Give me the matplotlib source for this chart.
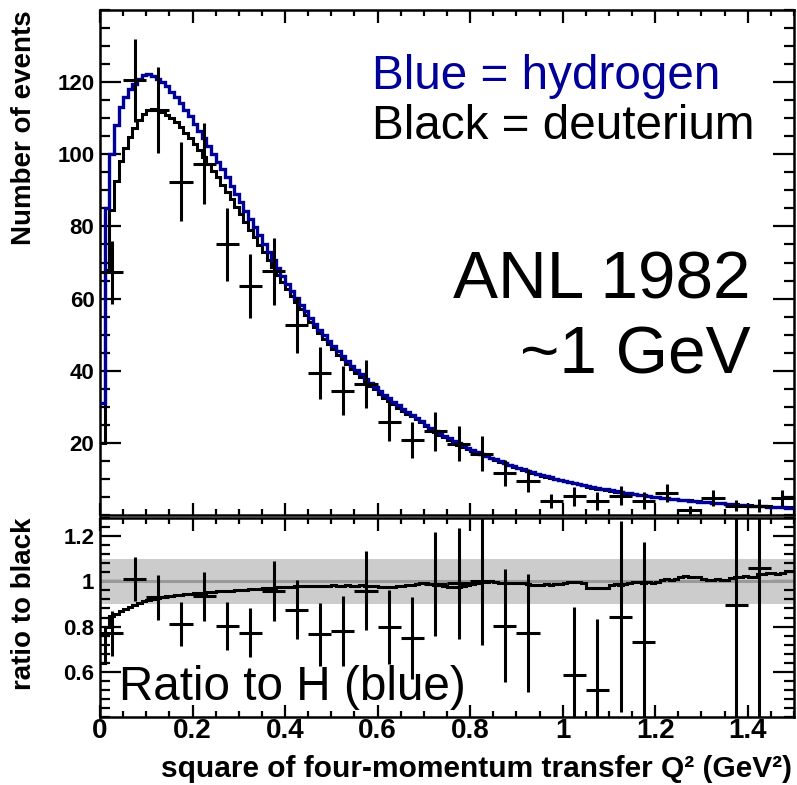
import numpy as np
import matplotlib
matplotlib.use("Agg")
import matplotlib.pyplot as plt
from matplotlib.ticker import MultipleLocator, FixedLocator, NullFormatter

plt.rcParams['font.family'] = ['Liberation Sans', 'DejaVu Sans']

# ---- Q^2 binning (fine MC histograms, 0.01 GeV^2 per bin; data 0.05 GeV^2) ----
q2_min, q2_max = 0.0, 1.5
n_fine = 150
n_data = 30

# Simulated hydrogen spectrum (blue), events per fine bin
hydrogen = [
    31, 85, 100, 108, 113, 116, 118, 119.5, 121, 122,
    122.2, 121.8, 121.0, 120.0, 118.8, 117.4, 115.9, 114.2, 112.4, 110.5,
    108.5, 106.5, 104.4, 102.3, 100.2, 98.0, 95.8, 93.6, 91.3, 89.0,
    86.7, 84.4, 82.1, 79.8, 77.5, 75.2, 72.9, 70.6, 68.4, 66.2,
    64.1, 62.1, 60.2, 58.3, 56.5, 54.7, 53.0, 51.4, 49.8, 48.3,
    46.8, 45.4, 44.0, 42.7, 41.4, 40.2, 39.0, 37.8, 36.7, 35.6,
    34.5, 33.4, 32.4, 31.4, 30.4, 29.5, 28.6, 27.7, 26.8, 26.0,
    25.0, 24.2, 23.4, 22.7, 22.0, 21.3, 20.6, 19.9, 19.3, 18.7,
    18.1, 17.5, 16.9, 16.4, 15.9, 15.4, 14.9, 14.4, 14.0, 13.5,
    13.1, 12.7, 12.3, 11.9, 11.5, 11.1, 10.8, 10.4, 10.1, 9.8,
    9.5, 9.2, 8.9, 8.6, 8.3, 8.0, 7.8, 7.5, 7.3, 7.1,
    6.8, 6.6, 6.4, 6.2, 6.0, 5.8, 5.6, 5.5, 5.3, 5.1,
    5.0, 4.8, 4.7, 4.5, 4.4, 4.2, 4.1, 4.0, 3.8, 3.7,
    3.6, 3.5, 3.4, 3.3, 3.2, 3.1, 3.0, 2.9, 2.8, 2.7,
    2.6, 2.5, 2.5, 2.4, 2.3, 2.2, 2.2, 2.1, 2.0, 2.0,
]

# Simulated deuterium spectrum (black), events per fine bin
deuterium = [
    19.84, 68.0, 84.5, 92.56, 98.08, 101.85, 104.78, 107.19, 109.51, 111.26,
    112.18, 112.42, 112.17, 111.72, 110.96, 110.0, 108.83, 107.46, 105.99, 104.42,
    102.75, 101.07, 99.18, 97.39, 95.49, 93.59, 91.58, 89.58, 87.56, 85.44,
    83.32, 81.28, 79.14, 77.09, 74.94, 72.87, 70.71, 68.62, 66.55, 64.55,
    62.56, 60.67, 58.94, 57.02, 55.37, 53.55, 51.99, 50.37, 48.75, 47.38,
    45.96, 44.49, 43.16, 41.97, 40.61, 39.40, 38.30, 37.04, 35.89, 34.85,
    33.67, 32.57, 31.65, 30.65, 29.73, 28.94, 28.11, 27.31, 26.53, 25.82,
    24.80, 23.96, 23.07, 22.29, 21.52, 20.79, 20.09, 19.44, 18.93, 18.42,
    17.88, 17.36, 16.83, 16.38, 15.90, 15.35, 14.81, 14.30, 13.89, 13.42,
    13.01, 12.59, 12.15, 11.73, 11.33, 10.92, 10.65, 10.24, 9.97, 9.70,
    9.44, 9.17, 8.89, 8.57, 8.23, 7.78, 7.57, 7.27, 7.09, 6.89,
    6.68, 6.51, 6.30, 6.14, 5.96, 5.77, 5.58, 5.47, 5.28, 5.07,
    4.99, 4.83, 4.74, 4.53, 4.44, 4.28, 4.19, 4.08, 3.88, 3.77,
    3.63, 3.52, 3.42, 3.33, 3.22, 3.12, 3.05, 2.96, 2.85, 2.76,
    2.65, 2.55, 2.58, 2.48, 2.38, 2.28, 2.27, 2.18, 2.09, 2.09,
]

# ANL 1982 measured events per 0.05 GeV^2 bin, with uncertainties
anl_counts = [
    67.3, 120.5, 112.3, 92.4, 97.4, 75.0, 63.5, 67.6, 52.7, 39.4,
    34.4, 36.3, 25.9, 20.8, 23.2, 19.8, 17.0, 11.6, 9.5, 3.9,
    5.2, 3.9, 5.4, 4.0, 6.2, 1.4, 4.7, 2.6, 2.6, 4.7,
]
anl_errors = [
    8.7, 11.5, 12.0, 11.0, 11.3, 10.0, 8.9, 9.3, 7.8, 7.2,
    6.8, 6.6, 5.3, 5.0, 5.4, 4.9, 4.8, 3.6, 3.2, 2.0,
    2.7, 2.4, 2.7, 2.4, 2.5, 1.2, 2.2, 1.6, 1.7, 2.2,
]

top_yticks = [20, 40, 60, 80, 100, 120]
ratio_yticks = [0.6, 0.8, 1.0, 1.2]
ratio_yticklabels = ["0.6", "0.8", "1", "1.2"]
xticks = [0, 0.2, 0.4, 0.6, 0.8, 1.0, 1.2, 1.4]
xticklabels = ["0", "0.2", "0.4", "0.6", "0.8", "1", "1.2", "1.4"]

hydrogen = np.array(hydrogen)
deuterium = np.array(deuterium)
anl_counts = np.array(anl_counts)
anl_errors = np.array(anl_errors)

fine_edges = np.linspace(q2_min, q2_max, n_fine + 1)
data_edges = np.linspace(q2_min, q2_max, n_data + 1)
data_centers = 0.5 * (data_edges[:-1] + data_edges[1:])
half_width = 0.5 * (data_edges[1] - data_edges[0])

# hydrogen rebinned to the data binning, used for the data/H ratio
group = n_fine // n_data
hydrogen_coarse = hydrogen.reshape(n_data, group).mean(axis=1)

navy = "#000099"
W, H = 797, 785
fig = plt.figure(figsize=(W / 100, H / 100), dpi=100)

def rect(x0, y0, x1, y1):
    return [x0 / W, 1 - y1 / H, (x1 - x0) / W, (y1 - y0) / H]

ax = fig.add_axes(rect(100, 10, 794, 515))
axr = fig.add_axes(rect(100, 518, 794, 717))

# ---------------- top panel ----------------
ax.stairs(deuterium, fine_edges, baseline=None, color="black", lw=2.2, zorder=3)
ax.stairs(hydrogen, fine_edges, baseline=None, color=navy, lw=2.4, zorder=4)
ax.errorbar(data_centers, anl_counts, yerr=anl_errors, xerr=half_width,
            fmt="none", ecolor="black", elinewidth=2.2, capsize=0, zorder=5)

ax.set_xlim(q2_min, q2_max)
ax.set_ylim(0, 140)
ax.yaxis.set_major_locator(FixedLocator(top_yticks))
ax.yaxis.set_minor_locator(MultipleLocator(5))
ax.xaxis.set_major_locator(FixedLocator(xticks))
ax.xaxis.set_minor_locator(MultipleLocator(0.05))
ax.xaxis.set_major_formatter(NullFormatter())
ax.set_yticklabels([str(v) for v in top_yticks], fontsize=16, fontweight="bold")

x_text = (372 - 100) / 694
ax.text(x_text, 0.843, "Blue = hydrogen", transform=ax.transAxes, ha="left",
        va="baseline", fontsize=34.3, color=navy)
ax.text(x_text, 0.745, "Black = deuterium", transform=ax.transAxes, ha="left",
        va="baseline", fontsize=34.3, color="black")
ax.text(0.938, 0.428, "ANL 1982", transform=ax.transAxes, ha="right",
        va="baseline", fontsize=48.6, color="black")
ax.text(0.938, 0.28, "~1 GeV", transform=ax.transAxes, ha="right",
        va="baseline", fontsize=48.6, color="black")

# ---------------- ratio panel ----------------
ratio_lo, ratio_hi = 0.4, 1.28
axr.fill_between([q2_min, q2_max], 0.9, 1.1, color="#cccccc", lw=0, zorder=1)
axr.axhline(1.0, color="#999999", lw=2.2, zorder=2)

mc_ratio = deuterium / hydrogen
axr.stairs(mc_ratio, fine_edges, baseline=None, color="black", lw=2.2, zorder=3)

data_ratio = anl_counts / hydrogen_coarse
data_ratio_err = anl_errors / hydrogen_coarse
shown = (data_ratio >= ratio_lo) & (data_ratio <= ratio_hi)
axr.errorbar(data_centers[shown], data_ratio[shown], yerr=data_ratio_err[shown],
             xerr=half_width, fmt="none", ecolor="black", elinewidth=2.2,
             capsize=0, zorder=5)

axr.set_xlim(q2_min, q2_max)
axr.set_ylim(ratio_lo, ratio_hi)
axr.yaxis.set_major_locator(FixedLocator(ratio_yticks))
axr.yaxis.set_minor_locator(MultipleLocator(0.04))
axr.xaxis.set_major_locator(FixedLocator(xticks))
axr.xaxis.set_minor_locator(MultipleLocator(0.05))
axr.set_yticklabels(ratio_yticklabels, fontsize=16, fontweight="bold")
axr.set_xticklabels(xticklabels, fontsize=20, fontweight="bold")

axr.text(0.027, 0.085, "Ratio to H (blue)", transform=axr.transAxes, ha="left",
         va="baseline", fontsize=34.3, color="black", zorder=6)

for a in (ax, axr):
    for s in a.spines.values():
        s.set_linewidth(1.8)
    a.tick_params(which="both", direction="in", top=True, right=True,
                  width=1.6, pad=4)

ax.tick_params(axis="y", which="major", length=15)
ax.tick_params(axis="y", which="minor", length=7.5)
ax.tick_params(axis="x", which="major", length=9)
ax.tick_params(axis="x", which="minor", length=4.5)
axr.tick_params(axis="y", which="major", length=15)
axr.tick_params(axis="y", which="minor", length=7.5)
axr.tick_params(axis="x", which="major", length=9)
axr.tick_params(axis="x", which="minor", length=4.5)
axr.tick_params(axis="x", which="major", pad=1)

fig.text(24 / W, 1 - 10 / H, "Number of events", rotation=90, ha="center",
         va="top", fontsize=20, fontweight="bold")
fig.text(24 / W, 1 - 517 / H, "ratio to black", rotation=90, ha="center",
         va="top", fontsize=20, fontweight="bold")
fig.text(792 / W, 1 - 777 / H, "square of four-momentum transfer Q\u00b2 (GeV\u00b2)",
         ha="right", va="baseline", fontsize=21.5, fontweight="bold")

fig.savefig("out.png", dpi=100)
